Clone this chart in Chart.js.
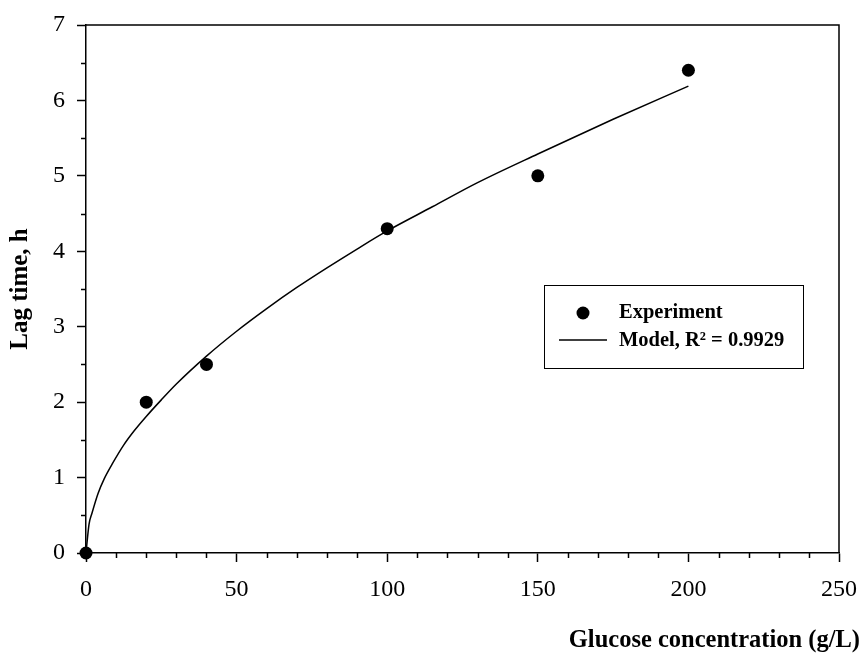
<!DOCTYPE html>
<html>
<head>
<meta charset="utf-8">
<style>
  html, body { margin: 0; padding: 0; background: #fff; }
  #wrap { width: 867px; height: 653px; }
</style>
<script src="https://cdn.jsdelivr.net/npm/chart.js"></script>
</head>
<body>
<div id="wrap"><canvas id="lagChart" width="867" height="653"></canvas></div>
<script>
// measured points
const expGlucose = [0, 20, 40, 100, 150, 200];
const expLag = [0, 2.0, 2.5, 4.3, 5.0, 6.4];

// fitted curve
const modelGlucose = [0, 1, 2, 4, 6, 9, 12.5, 16, 20, 25, 30, 40, 50, 60, 70, 80, 90, 100, 115, 130, 150, 175, 200];
const modelLag = [0, 0.38, 0.53, 0.79, 0.98, 1.2, 1.43, 1.62, 1.81, 2.03, 2.24, 2.61, 2.94, 3.24, 3.52, 3.78, 4.03, 4.27, 4.59, 4.91, 5.29, 5.75, 6.19];

const xTicks = [0, 50, 100, 150, 200, 250];
const yTicks = [0, 1, 2, 3, 4, 5, 6, 7];

const serif = "'Liberation Serif', 'Times New Roman', serif";

const toXY = (xs, ys) => xs.map((x, i) => ({ x: x, y: ys[i] }));

// minor ticks, frame and boxed legend
const extrasPlugin = {
    id: 'extras',
    afterDraw(chart) {
        const ctx = chart.ctx;
        const area = chart.chartArea;
        const xs = chart.scales.x;
        const ys = chart.scales.y;
        ctx.save();
        ctx.strokeStyle = '#000';
        ctx.lineWidth = 1.5;
        ctx.beginPath();
        for (let v = 10; v < 250; v += 10) {
            if (v % 50 === 0) continue;
            const px = Math.round(xs.getPixelForValue(v)) + 0.5;
            ctx.moveTo(px, area.bottom);
            ctx.lineTo(px, area.bottom + 5);
        }
        for (let v = 0.5; v < 7; v += 1) {
            const py = Math.round(ys.getPixelForValue(v)) + 0.5;
            ctx.moveTo(area.left - 5, py);
            ctx.lineTo(area.left, py);
        }
        ctx.stroke();

        // top and right frame
        ctx.beginPath();
        ctx.moveTo(area.left, area.top);
        ctx.lineTo(area.right, area.top);
        ctx.lineTo(area.right, area.bottom);
        ctx.stroke();

        // legend box
        const bx = 544, by = 285, bw = 259, bh = 83;
        ctx.lineWidth = 1;
        ctx.strokeRect(bx + 0.5, by + 0.5, bw, bh);
        const ds = chart.data.datasets;
        ctx.fillStyle = '#000';
        ctx.beginPath();
        ctx.arc(583, 313, 6.5, 0, Math.PI * 2);
        ctx.fill();
        ctx.lineWidth = 1.5;
        ctx.beginPath();
        ctx.moveTo(559, 340);
        ctx.lineTo(607, 340);
        ctx.stroke();
        ctx.font = "bold 20.5px " + serif;
        ctx.textBaseline = 'middle';
        ctx.textAlign = 'left';
        ctx.fillText(ds[0].label, 619, 313);
        ctx.fillText(ds[1].label, 619, 341);
        ctx.restore();
    }
};

const lagChart = new Chart(document.getElementById('lagChart').getContext('2d'), {
    type: 'scatter',
    data: {
        datasets: [{
            label: 'Experiment',
            data: toXY(expGlucose, expLag),
            pointRadius: 6.5,
            pointHoverRadius: 6.5,
            pointBackgroundColor: '#000',
            pointBorderColor: '#000',
            pointBorderWidth: 0,
            showLine: false,
            clip: false
        }, {
            label: 'Model, R\u00B2 = 0.9929',
            data: toXY(modelGlucose, modelLag),
            showLine: true,
            pointRadius: 0,
            borderColor: '#000',
            borderWidth: 1.5,
            cubicInterpolationMode: 'monotone',
            clip: false
        }]
    },
    options: {
        responsive: false,
        animation: false,
        layout: { padding: { left: 0, right: 7, top: 25, bottom: 0 } },
        plugins: {
            legend: { display: false },
            tooltip: { enabled: false },
            // x axis title sits in a full-width bottom box, flush right
            title: {
                display: true,
                position: 'bottom',
                align: 'end',
                text: 'Glucose concentration (g/L)',
                color: '#000',
                padding: { top: 0, bottom: 0 },
                font: { family: serif, size: 24.5, weight: 'bold', lineHeight: 1 }
            }
        },
        scales: {
            x: {
                type: 'linear',
                min: 0,
                max: 250,
                afterFit(scale) {
                    scale.height = 75.5;
                    scale.paddingRight = 28;
                },
                afterBuildTicks(scale) { scale.ticks = xTicks.map(v => ({ value: v })); },
                grid: { drawOnChartArea: false, tickLength: 9, tickColor: '#000', tickWidth: 1.5 },
                border: { color: '#000', width: 1.5 },
                ticks: { color: '#000', padding: 13, font: { family: serif, size: 24 } }
            },
            y: {
                type: 'linear',
                min: 0,
                max: 7,
                afterFit(scale) {
                    scale.width = 86;
                    scale.paddingTop = 0;
                },
                afterBuildTicks(scale) { scale.ticks = yTicks.map(v => ({ value: v })); },
                grid: { drawOnChartArea: false, tickLength: 9, tickColor: '#000', tickWidth: 1.5 },
                border: { color: '#000', width: 1.5 },
                ticks: { color: '#000', padding: 12, font: { family: serif, size: 24 } },
                title: {
                    display: true,
                    text: 'Lag time, h',
                    color: '#000',
                    padding: { top: 6, bottom: 0 },
                    font: { family: serif, size: 25, weight: 'bold', lineHeight: 1.2 }
                }
            }
        }
    },
    plugins: [extrasPlugin]
});
</script>
</body>
</html>
